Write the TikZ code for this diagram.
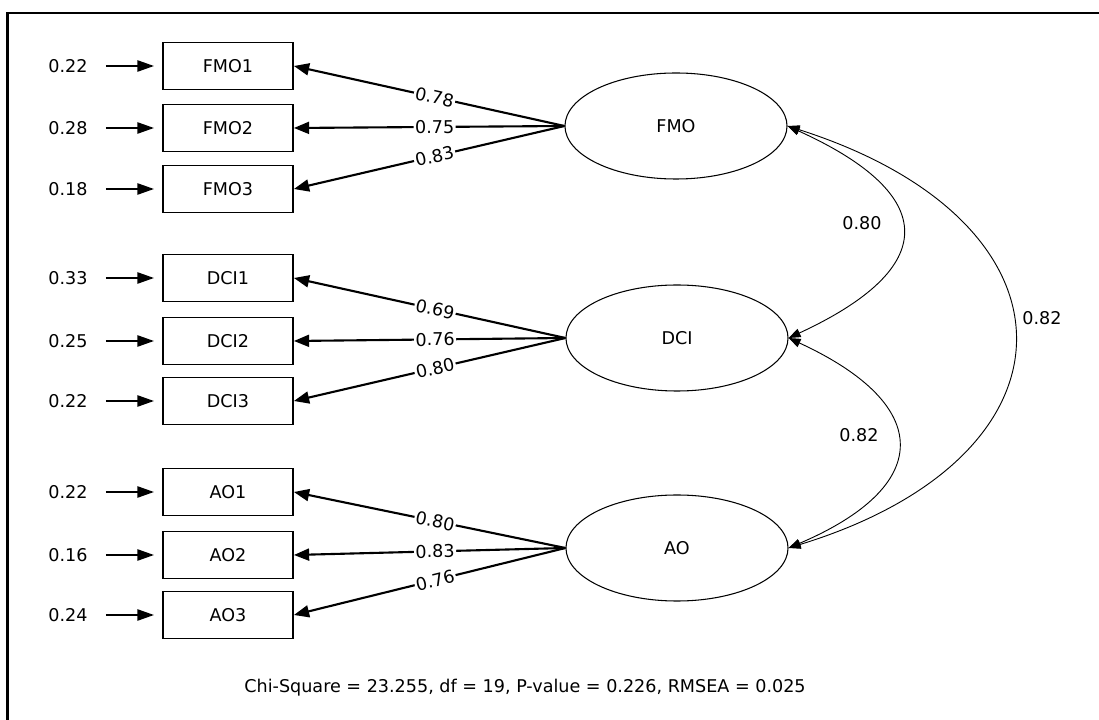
\documentclass[tikz,border=0pt]{standalone}
\usepackage{fontspec}
\setmainfont{DejaVu Sans}
\usetikzlibrary{arrows.meta,shapes.geometric}
\begin{document}
\begin{tikzpicture}[x=0.025cm,y=-0.025cm,
  font=\fontsize{12.5}{15}\selectfont,
  obs/.style={draw, line width=1.3pt, minimum width=3.25cm, minimum height=1.175cm, inner sep=0pt},
  lat/.style={draw, ellipse, line width=0.75pt, minimum width=5.55cm, minimum height=2.65cm, inner sep=0pt},
  errval/.style={inner sep=0pt},
  erra/.style={line width=1.5pt, -{Triangle[length=0.42cm,width=0.28cm]}, shorten <=0.45cm, shorten >=0.2cm},
  load/.style={line width=1.5pt, -{Triangle[length=0.38cm,width=0.3cm]}},
  cov/.style={line width=0.65pt, {Triangle[length=0.3cm,width=0.22cm]}-{Triangle[length=0.3cm,width=0.22cm]}},
  coef/.style={fill=white, inner sep=1pt, sloped, pos=0.48}
]
\useasboundingbox (0,0) rectangle (1099,720);
% outer frame (top and left edges)
\draw[line width=2.1pt] (1099,13) -- (7.5,13) -- (7.5,720);

% latent variables
\node[lat] (fmo) at (676,126) {FMO};
\node[lat] (dci) at (677,338) {DCI};
\node[lat] (ao)  at (677,548) {AO};

% indicators
\node[obs] (fmo1) at (228,66)  {FMO1};
\node[obs] (fmo2) at (228,128) {FMO2};
\node[obs] (fmo3) at (228,189) {FMO3};
\node[obs] (dci1) at (228,278) {DCI1};
\node[obs] (dci2) at (228,341) {DCI2};
\node[obs] (dci3) at (228,401) {DCI3};
\node[obs] (ao1)  at (228,492) {AO1};
\node[obs] (ao2)  at (228,555) {AO2};
\node[obs] (ao3)  at (228,615) {AO3};

% error variances
\node[errval] (e1) at (68,66)  {0.22};
\node[errval] (e2) at (68,128) {0.28};
\node[errval] (e3) at (68,189) {0.18};
\node[errval] (e4) at (68,278) {0.33};
\node[errval] (e5) at (68,341) {0.25};
\node[errval] (e6) at (68,401) {0.22};
\node[errval] (e7) at (68,492) {0.22};
\node[errval] (e8) at (68,555) {0.16};
\node[errval] (e9) at (68,615) {0.24};

\foreach \e/\b in {e1/fmo1,e2/fmo2,e3/fmo3,e4/dci1,e5/dci2,e6/dci3,e7/ao1,e8/ao2,e9/ao3}
  \draw[erra] (\e.east) -- (\b.west);

% factor loadings
\draw[load] (fmo.west) -- node[coef]{0.78} (fmo1.east);
\draw[load] (fmo.west) -- node[coef]{0.75} (fmo2.east);
\draw[load] (fmo.west) -- node[coef]{0.83} (fmo3.east);
\draw[load] (dci.west) -- node[coef]{0.69} (dci1.east);
\draw[load] (dci.west) -- node[coef]{0.76} (dci2.east);
\draw[load] (dci.west) -- node[coef]{0.80} (dci3.east);
\draw[load] (ao.west) -- node[coef]{0.80} (ao1.east);
\draw[load] (ao.west) -- node[coef]{0.83} (ao2.east);
\draw[load] (ao.west) -- node[coef]{0.76} (ao3.east);

% correlations between factors
\draw[cov] (fmo.east) .. controls (940,195) and (940,268) .. (dci.east);
\draw[cov] (dci.east) .. controls (934,405) and (934,486) .. (ao.east);
\draw[cov] (fmo.east) .. controls (1089,222) and (1089,456) .. (ao.east);
\node (r1) at (862,223) {0.80};
\node (r2) at (859,435) {0.82};
\node (r3) at (1042,318) {0.82};

% fit statistics
\node (fit) at (525,688) {Chi-Square = 23.255, df = 19, P-value = 0.226, RMSEA = 0.025};
\end{tikzpicture}
\end{document}
